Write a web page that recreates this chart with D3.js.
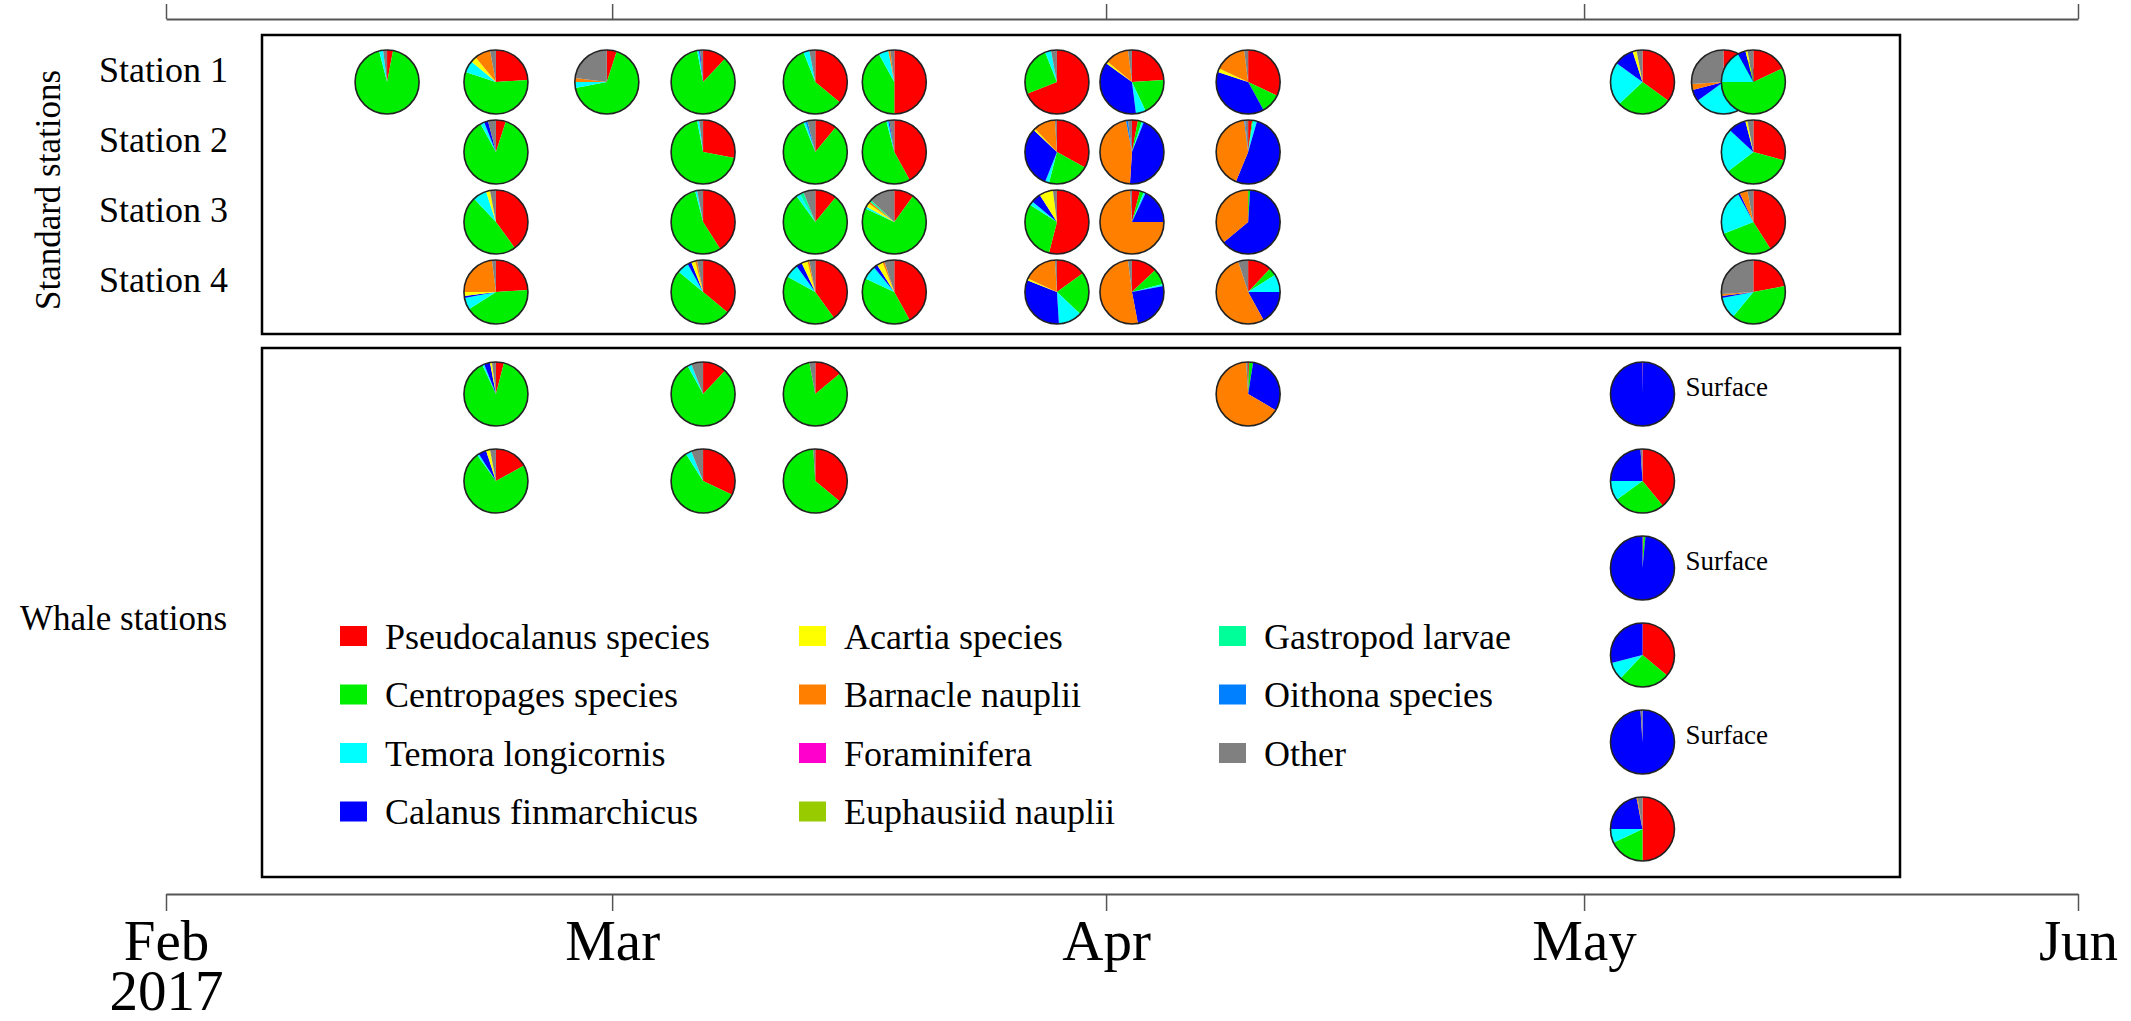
<!DOCTYPE html>
<html><head><meta charset="utf-8">
<script src="https://cdn.jsdelivr.net/npm/d3@7"></script>
<style>
body{margin:0;background:#fff}
text{font-family:"Liberation Serif","Times New Roman",serif;fill:#000}
</style>
</head><body>
<svg id="chart" width="2131" height="1021"></svg>
<script>
// ---------------- DATA ----------------
const categories = ["Pseudocalanus species","Centropages species","Temora longicornis","Calanus finmarchicus",
  "Acartia species","Barnacle nauplii","Foraminifera","Euphausiid nauplii",
  "Gastropod larvae","Oithona species","Other"];
const palette = ["#ff0000","#00ee00","#00ffff","#0000ff","#ffff00","#ff8000","#ff00cc","#99cc00","#00ff99","#0080ff","#808080"];
const stationNames = ["Station 1","Station 2","Station 3","Station 4"];
const monthTicks = ["2017-02-01","2017-03-01","2017-04-01","2017-05-01","2017-06-01"];
const yearLabel = "2017";

// values order = categories order
const station1 = [
  ["2017-02-14T21:00Z",[.03,.93,.02,0,0,0,0,0,0,0,.02]],
  ["2017-02-21T17:00Z",[.24,.56,.06,0,.03,.08,0,0,0,0,.03]],
  ["2017-02-28T16:00Z",[.05,.67,.03,0,0,.02,0,0,0,0,.23]],
  ["2017-03-06T17:00Z",[.12,.85,.01,.005,0,0,0,0,0,0,.015]],
  ["2017-03-13T18:00Z",[.36,.58,.03,0,0,0,0,0,0,0,.03]],
  ["2017-03-18T17:00Z",[.50,.42,.05,0,0,.01,0,0,0,0,.02]],
  ["2017-03-28T22:00Z",[.69,.25,.03,0,0,0,0,0,0,0,.03]],
  ["2017-04-02T15:00Z",[.24,.19,.05,.37,.01,.12,0,0,0,0,.02]],
  ["2017-04-09T22:00Z",[.32,.10,0,.38,.02,.16,0,0,0,0,.02]],
  ["2017-05-04T16:00Z",[.35,.28,.22,.10,.02,0,0,0,0,0,.03]],
  ["2017-05-09T18:00Z",[.08,.35,.22,.06,0,.03,0,0,0,0,.26]],
  ["2017-05-11T15:00Z",[.18,.57,.17,.04,.01,0,0,0,0,0,.03]]
];
const station2 = [
  ["2017-02-21T17:00Z",[.05,.87,.02,.02,0,0,0,0,0,0,.04]],
  ["2017-03-06T17:00Z",[.28,.69,.01,0,0,0,0,0,0,0,.02]],
  ["2017-03-13T18:00Z",[.11,.83,.01,0,0,0,0,0,0,.01,.04]],
  ["2017-03-18T17:00Z",[.42,.54,.01,.005,0,0,0,0,0,0,.025]],
  ["2017-03-28T22:00Z",[.33,.21,.02,.31,.01,.11,0,0,0,0,.01]],
  ["2017-04-02T15:00Z",[.03,.02,.01,.45,0,.46,0,0,0,.01,.02]],
  ["2017-04-09T22:00Z",[.02,.005,.02,.52,0,.42,0,0,0,.005,.015]],
  ["2017-05-11T15:00Z",[.29,.35,.22,.09,.01,0,0,0,0,0,.03]]
];
const station3 = [
  ["2017-02-21T17:00Z",[.40,.48,.07,0,.02,0,0,0,0,0,.03]],
  ["2017-03-06T17:00Z",[.41,.55,.01,0,0,0,0,0,0,0,.03]],
  ["2017-03-13T18:00Z",[.11,.79,.02,0,0,0,0,0,.02,0,.06]],
  ["2017-03-18T17:00Z",[.10,.72,.01,0,.02,.01,0,0,.01,0,.13]],
  ["2017-03-28T22:00Z",[.54,.30,.02,.05,.07,0,0,0,0,0,.02]],
  ["2017-04-02T15:00Z",[.04,.02,.01,.18,0,.74,0,0,0,0,.01]],
  ["2017-04-09T22:00Z",[0,.01,0,.63,0,.36,0,0,0,0,0]],
  ["2017-05-11T15:00Z",[.41,.28,.23,.01,0,.04,0,0,0,0,.03]]
];
const station4 = [
  ["2017-02-21T17:00Z",[.24,.42,.06,.01,.02,.23,0,0,0,0,.02]],
  ["2017-03-06T17:00Z",[.36,.50,.06,.02,.02,.01,0,0,0,0,.03]],
  ["2017-03-13T18:00Z",[.40,.43,.07,.03,.03,.01,0,0,0,0,.03]],
  ["2017-03-18T17:00Z",[.42,.40,.07,.02,.03,.01,0,0,0,0,.05]],
  ["2017-03-28T22:00Z",[.15,.22,.12,.32,.01,.17,0,0,0,0,.01]],
  ["2017-04-02T15:00Z",[.13,.08,.01,.25,0,.51,0,0,0,0,.02]],
  ["2017-04-09T22:00Z",[.12,.04,.09,.17,0,.53,0,0,0,0,.05]],
  ["2017-05-11T15:00Z",[.22,.39,.11,.01,0,.01,0,0,0,0,.26]]
];
// whale stations: date, row (1-6), surface sample flag, values
const whaleSamples = [
  ["2017-02-21T17:00Z",1,false,[.04,.89,.01,.03,.01,0,0,0,0,0,.02]],
  ["2017-02-21T17:00Z",2,false,[.17,.73,.01,.04,.02,0,0,0,0,0,.03]],
  ["2017-03-06T17:00Z",1,false,[.12,.80,.02,0,0,0,0,0,0,0,.06]],
  ["2017-03-06T17:00Z",2,false,[.32,.59,.03,0,0,0,0,0,0,0,.06]],
  ["2017-03-13T18:00Z",1,false,[.14,.83,0,0,0,0,0,0,0,0,.03]],
  ["2017-03-13T18:00Z",2,false,[.36,.63,0,0,0,0,0,0,0,0,.01]],
  ["2017-04-09T22:00Z",1,false,[.005,.02,0,.31,0,.655,0,0,0,0,.01]],
  ["2017-05-04T16:00Z",1,true,[.003,0,0,.997,0,0,0,0,0,0,0]],
  ["2017-05-04T16:00Z",2,false,[.39,.26,.10,.24,0,0,0,0,0,0,.01]],
  ["2017-05-04T16:00Z",3,true,[.005,.01,0,.985,0,0,0,0,0,0,0]],
  ["2017-05-04T16:00Z",4,false,[.36,.26,.09,.29,0,0,0,0,0,0,0]],
  ["2017-05-04T16:00Z",5,true,[0,0,0,.99,0,0,0,0,0,0,.01]],
  ["2017-05-04T16:00Z",6,false,[.50,.18,.07,.22,0,.005,0,0,0,0,.025]]
];

// ---------------- CHART ----------------
const svg = d3.select("#chart");
const parse = d3.utcParse("%Y-%m-%d");
const parseT = s => new Date(s);
const monthDates = monthTicks.map(parse);

const x = d3.scaleUtc().domain([monthDates[0], monthDates[monthDates.length-1]]).range([166, 2078]);
const yStd = d3.scalePoint().domain(stationNames).range([82, 292]);
const yWhale = d3.scaleLinear().domain([1, 6]).range([394, 829]);
const color = d3.scaleOrdinal().domain(categories).range(palette);
const R = 32;
const pie = d3.pie().sort(null).value(d => d.v);
const arc = d3.arc().innerRadius(0).outerRadius(R);

// panels
svg.append("rect").attr("x",262).attr("y",35).attr("width",1638).attr("height",299)
  .attr("fill","none").attr("stroke","#000").attr("stroke-width",2.5);
svg.append("rect").attr("x",262).attr("y",348).attr("width",1638).attr("height",529)
  .attr("fill","none").attr("stroke","#000").attr("stroke-width",2.5);

function drawPie(cx, cy, vals){
  const g = svg.append("g").attr("transform",`translate(${cx},${cy})`);
  g.selectAll("path").data(pie(vals.map((v,i)=>({k:categories[i], v}))))
    .join("path").attr("d", arc).attr("fill", d => color(d.data.k));
  g.append("circle").attr("r", R).attr("fill","none").attr("stroke","#222").attr("stroke-width",1.6);
}

[station1, station2, station3, station4].forEach((rows, si) => {
  rows.forEach(([d, vals]) => drawPie(x(parseT(d)), yStd(stationNames[si]), vals));
});
whaleSamples.forEach(([d,row,surf,vals]) => {
  const cx = x(parseT(d)), cy = yWhale(row);
  drawPie(cx, cy, vals);
  if (surf) svg.append("text").attr("x", cx + R + 11).attr("y", cy + 2)
    .attr("font-size", 27).text("Surface");
});

// row labels
stationNames.forEach(s => {
  svg.append("text").attr("x", 99).attr("y", yStd(s)).attr("font-size", 36).text(s);
});
svg.append("text").attr("transform","translate(60,190) rotate(-90)")
  .attr("text-anchor","middle").attr("font-size",35).text("Standard stations");
svg.append("text").attr("x",20).attr("y",630).attr("font-size",35).text("Whale stations");

// axes
const axB = svg.append("g").attr("transform","translate(0,894)")
  .call(d3.axisBottom(x).tickValues(monthDates).tickSize(17).tickSizeOuter(0)
    .tickFormat(d3.utcFormat("%b")));
const axT = svg.append("g").attr("transform","translate(0,19)")
  .call(d3.axisTop(x).tickValues(monthDates).tickSize(15).tickSizeOuter(0).tickFormat(""));
[axB, axT].forEach(a => {
  a.select(".domain").attr("stroke","#555").attr("stroke-width",2);
  a.selectAll(".tick line").attr("stroke","#555").attr("stroke-width",1.5);
});
axB.selectAll(".tick text").attr("y",66).attr("dy",0).attr("font-size",57)
  .attr("font-family",'"Liberation Serif","Times New Roman",serif').attr("fill","#000");
axB.select(".tick text").append("tspan").attr("x",0).attr("dy",50).text(yearLabel);

// legend
const legX = [340, 799, 1219];
const lg = svg.append("g");
categories.forEach((c,i) => {
  const col = Math.floor(i/4), row = i%4;
  const yy = 636 + row*58.5;
  lg.append("rect").attr("x",legX[col]).attr("y",yy-10).attr("width",27).attr("height",20).attr("fill",color(c));
  lg.append("text").attr("x",legX[col]+45).attr("y",yy).attr("dy","0.35em").attr("font-size",36).text(c);
});
</script>
</body></html>
